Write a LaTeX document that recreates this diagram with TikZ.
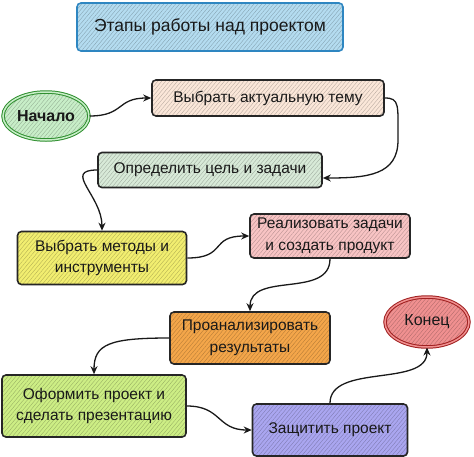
\documentclass[tikz,border=0pt]{standalone}
\usepackage{fontspec}
\setmainfont{Liberation Sans}
\usetikzlibrary{arrows.meta,patterns.meta,shapes.geometric}
\definecolor{titlefill}{HTML}{B4DCF0}
\definecolor{titledraw}{HTML}{2E86C1}
\definecolor{startfill}{HTML}{C8EEC8}
\definecolor{startdraw}{HTML}{2F8F2F}
\definecolor{topicfill}{HTML}{FBE7D9}
\definecolor{goalfill}{HTML}{D8EAD8}
\definecolor{methfill}{HTML}{F2EE70}
\definecolor{implfill}{HTML}{F8C4C4}
\definecolor{analfill}{HTML}{F4A64A}
\definecolor{endfill}{HTML}{F09090}
\definecolor{enddraw}{HTML}{A02020}
\definecolor{presfill}{HTML}{CDEE85}
\definecolor{deffill}{HTML}{AAA6F0}
\tikzset{
  hatch/.style={preaction={fill=#1}, pattern={Lines[angle=50,distance=3pt,line width=0.4pt]}, pattern color=#1!75!black},
  stepbox/.style={draw=black!85, line width=1.6pt, rounded corners=4pt, hatch=#1, align=center, font=\fontsize{15.5}{21.5}\selectfont, inner sep=0pt, text=black!90},
  ovalnode/.style={ellipse, double distance=1.5pt, line width=1pt, inner sep=0pt, font=\fontsize{16}{19}\selectfont, text=black!90},
  arr/.style={-{Stealth[length=8pt,width=7pt]}, line width=1.3pt, black!90},
}
\begin{document}
\begin{tikzpicture}[x=1pt,y=-1pt]
\useasboundingbox (0,0) rectangle (474,456);
\node[stepbox=titlefill, draw=titledraw, minimum width=266pt, minimum height=48pt, font=\fontsize{17.5}{20}\selectfont] (title) at (210,27) {Этапы работы над проектом};
\node[ovalnode, draw=startdraw, double=startfill, hatch=startfill, minimum width=86pt, minimum height=48pt, font=\fontsize{16}{19}\selectfont\bfseries] (start) at (46,116) {Начало};
\node[stepbox=topicfill, minimum width=232pt, minimum height=36pt] (topic) at (268,98) {Выбрать актуальную тему};
\node[stepbox=goalfill, minimum width=224pt, minimum height=35pt] (goal) at (210,170) {Определить цель и задачи};
\node[stepbox=methfill, minimum width=169pt, minimum height=53pt] (meth) at (102,258) {Выбрать методы и\\инструменты};
\node[stepbox=implfill, minimum width=160pt, minimum height=44pt] (impl) at (330,236) {Реализовать задачи\\и создать продукт};
\node[stepbox=analfill, minimum width=160pt, minimum height=52pt] (anal) at (250,338) {Проанализировать\\результаты};
\node[ovalnode, draw=enddraw, double=endfill, hatch=endfill, minimum width=84pt, minimum height=50pt] (end) at (427,322) {Конец};
\node[stepbox=presfill, minimum width=184pt, minimum height=62pt] (pres) at (94,406) {Оформить проект и\\сделать презентацию};
\node[stepbox=deffill, minimum width=155pt, minimum height=52pt] (def) at (330,430) {Защитить проект};
\coordinate (c1) at (398,140);
\draw[arr] (start.east) .. controls +(35,0) and +(-35,0) .. (topic.west);
\draw[arr] (topic.east) .. controls +(15,0) and +(0,-35) .. (c1) .. controls +(0,35) and +(45,0) .. ([yshift=-8pt]goal.east);
\draw[arr] (goal.west) .. controls +(-35,0) and +(0,-35) .. (meth.north);
\draw[arr] (meth.east) .. controls +(40,0) and +(-40,0) .. (impl.west);
\draw[arr] (impl.south) .. controls +(0,40) and +(0,-40) .. (anal.north);
\draw[arr] (anal.west) .. controls +(-60,0) and +(0,-30) .. (pres.north);
\draw[arr] (pres.east) .. controls +(35,0) and +(-35,0) .. (def.west);
\draw[arr] (def.north) .. controls +(0,-40) and +(0,40) .. (end.south);
\end{tikzpicture}
\end{document}
